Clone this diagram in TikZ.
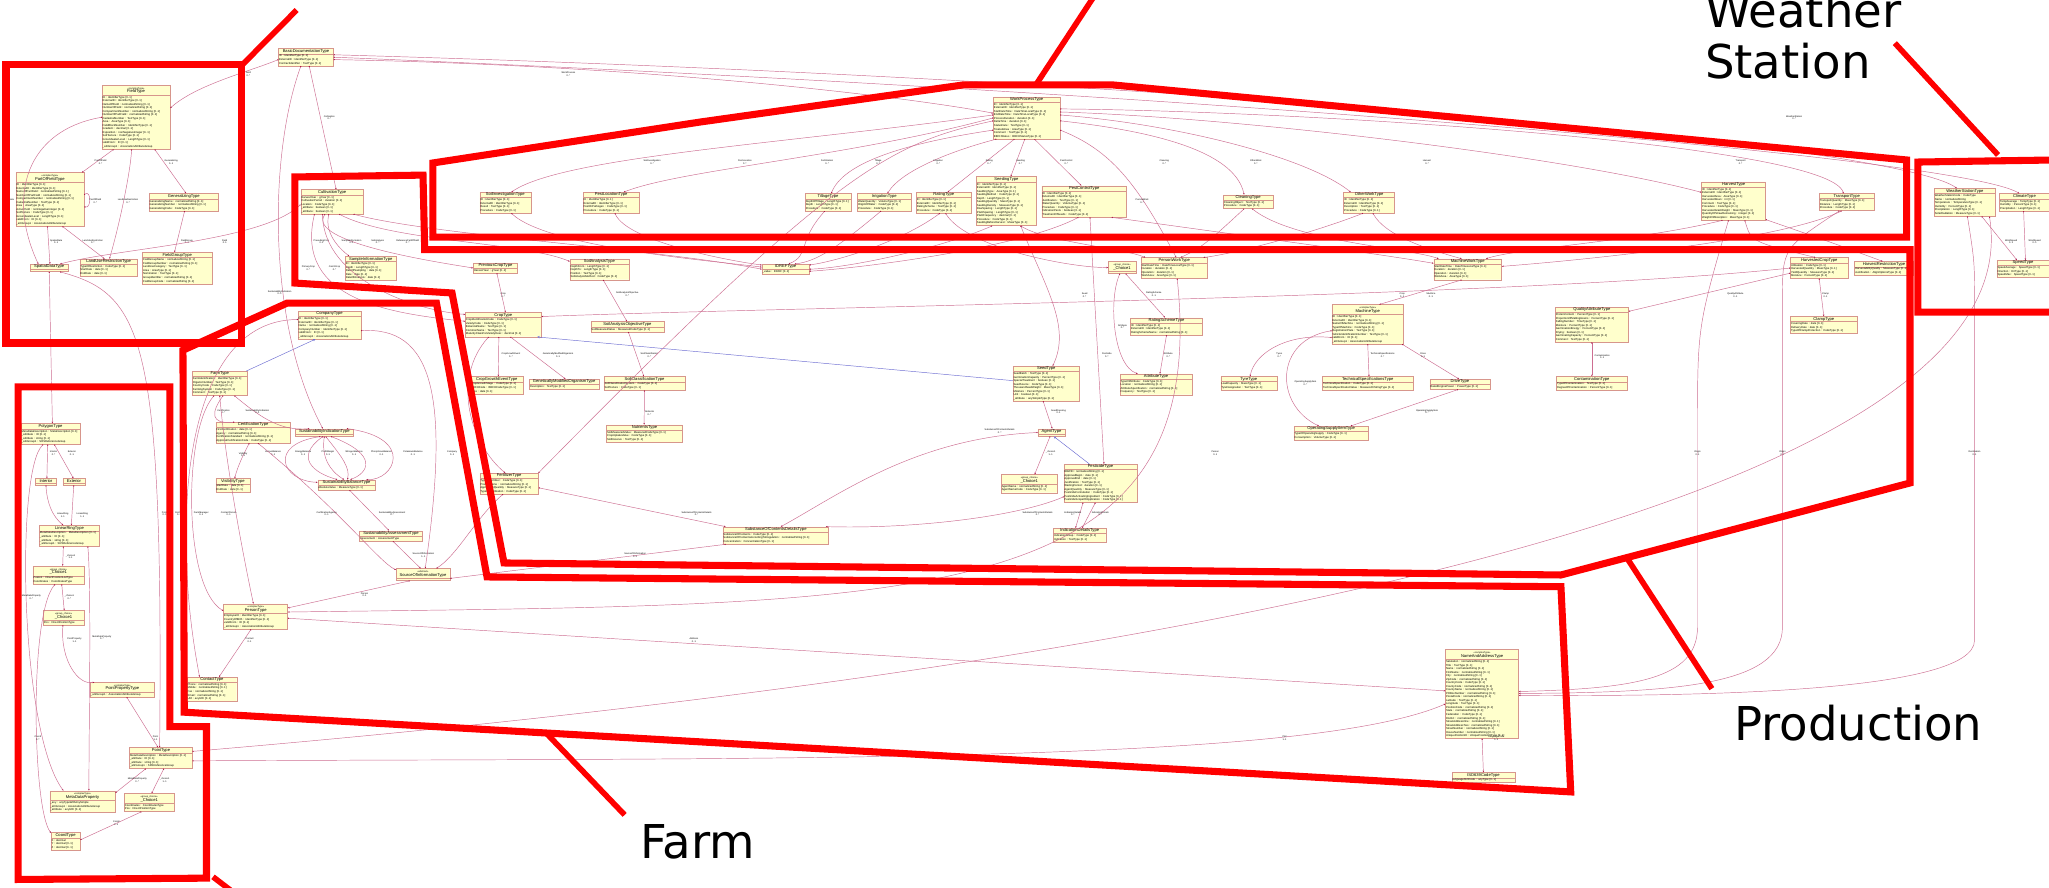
\documentclass[tikz,border=0pt]{standalone}
\usepackage{fontspec}
\setmainfont{Liberation Sans}
\newfontfamily\bigfont{DejaVu Sans}
\usetikzlibrary{shapes.multipart,arrows.meta}
\definecolor{clsfill}{RGB}{255,255,204}
\definecolor{clsborder}{RGB}{215,150,140}
\definecolor{linkc}{RGB}{205,110,145}
\definecolor{tipc}{RGB}{170,20,70}
\definecolor{genblue}{RGB}{110,110,210}
\newcounter{labc}
\newcommand{\stereo}[2]{\begin{tabular}{@{}c@{}}{\fontsize{3.4}{3.8}\selectfont «#1»}\\[-1.5pt]#2\end{tabular}}
\newcommand{\umlc}[6]{\pgfmathsetlengthmacro{\clsw}{#4*0.065cm-1.6pt}%
  \node[umlbox,text width=\clsw] (#1) at (#2,-#3) {{\noindent\centering\fontsize{5.8}{6.6}\selectfont #5\par}\nodepart{second}\noindent\begin{tabular}{@{}l@{}}#6\end{tabular}};}
\newcommand{\rlab}[3]{\stepcounter{labc}\node[lab] (lab\thelabc) at (#1,-#2) {#3};}
\begin{document}
\begin{tikzpicture}[x=0.065cm,y=0.065cm,
  umlbox/.style={rectangle split, rectangle split parts=2, draw=clsborder, fill=clsfill, line width=0.6pt, inner xsep=0.8pt, inner ysep=0.7pt, anchor=north west, font=\fontsize{3.9}{5.0}\selectfont},
  link/.style={draw=linkc, line width=0.65pt, {Circle[length=1.6pt,color=tipc]}-{Stealth[length=2.4pt,width=2pt,color=tipc]}},
  genl/.style={draw=genblue, line width=0.65pt, -{Triangle[open,length=3.2pt,width=3.2pt,fill=white]}},
  lab/.style={font=\fontsize{3.3}{3.8}\selectfont, align=center, inner sep=0.2pt},
  redreg/.style={draw=red, line width=10pt},
  redptr/.style={draw=red, line width=8pt},
  biglab/.style={font=\bigfont\fontsize{66}{72}\selectfont, anchor=base west, inner sep=0pt}]
\useasboundingbox (0,0) rectangle (1568,-679);
\fill[white] (0,0) rectangle (1568,-679);

% ---------------- Field region
\umlc{field}{78}{65}{52}{\stereo{complexType}{FieldType}}{ID : IdentifierType [0..1]\\ExternalID : IdentifierType [0..1]\\NameOfField : normalizedString [0..1]\\NumberOfField : normalizedString [0..1]\\CompartmentNumber : normalizedString [0..1]\\NumberOfPartField : normalizedString [0..1]\\CadastralNumber : TextType [0..1]\\Area : AreaType [0..1]\\FieldBlockNumber : IdentifierType [0..1]\\Gradient : decimal [0..1]\\Exposition : nonNegativeInteger [0..1]\\SoilTexture : CodeType [0..1]\\GroundwaterLevel : LengthType [0..1]\\validFrom : ID [0..1]\\\_attrGroup1 : AssociationAttributeGroup}
\umlc{pof}{12}{132}{52}{\stereo{complexType}{PartOfFieldType}}{ID : IdentifierType [0..1]\\ExternalID : IdentifierType [0..1]\\NameOfPartField : normalizedString [0..1]\\NumberOfPartField : normalizedString [0..1]\\CompartmentNumber : normalizedString [0..1]\\CadastralNumber : TextType [0..1]\\Area : AreaType [0..1]\\ActiveYield : nonNegativeInteger [0..1]\\SoilTexture : CodeType [0..1]\\GroundwaterLevel : LengthType [0..1]\\validFrom : ID [0..1]\\\_attrGroup1 : AssociationAttributeGroup}
\umlc{gen}{114}{148}{53}{GeneralizingType}{GeneralizingName : normalizedString [0..1]\\GeneralizingNumber : normalizedString [0..1]\\GeneralizingCode : CodeType [0..1]}
\umlc{spat}{23}{202}{29}{SpatialDataType}{}
\umlc{lur}{61}{198}{44}{LandUseRestrictionType}{TypeOfRestriction : CodeType [0..1]\\StartDate : date [0..1]\\EndDate : date [0..1]}
\umlc{fgrp}{109}{193}{53}{FieldGroupType}{FieldGroupName : normalizedString [0..1]\\FieldGroupNumber : normalizedString [0..1]\\LandUseCategory : TextType [0..1]\\Area : AreaType [0..1]\\Nomination : TextType [0..1]\\GroupIdentifier : normalizedString [0..1]\\FieldGroupCode : normalizedString [0..1]}
\umlc{bdoc}{213}{37}{42}{BasicDocumentationType}{ID : IdentifierType [0..1]\\ExternalID : IdentifierType [0..1]\\ContractIdentifier : TextType [0..1]}

% ---------------- Location region
\umlc{poly}{16}{324}{45}{PolygonType}{MetaDataDescription : MetaDescription [0..1]\\\_attribute : ID [0..1]\\\_attribute : string [0..1]\\\_attrGroup1 : SRSReferenceGroup}
\umlc{inter}{27}{366}{16}{Interior}{}
\umlc{exter}{48}{366}{17}{Exterior}{}
\umlc{lring}{30}{402}{46}{LinearRingType}{MetaDataDescription : MetaDescription [0..1]\\\_attribute : ID [0..1]\\\_attribute : string [0..1]\\\_attrGroup1 : SRSReferenceGroup}
\umlc{chA}{25}{433}{39}{\stereo{group\_choice}{\_Choice1}}{PosList : DirectPositionListType\\Coordinates : CoordinatesType}
\umlc{chB}{33}{467}{31}{\stereo{group\_choice}{\_Choice1}}{Pos : DirectPositionType}
\umlc{ppt}{69}{522}{49}{\stereo{complexType}{PointPropertyType}}{\_attrGroup1 : AssociationAttributeGroup}
\umlc{point}{99}{572}{48}{PointType}{MetaDataDescription : MetaDescription [0..1]\\\_attribute : ID [0..1]\\\_attribute : string [0..1]\\\_attrGroup1 : SRSReferenceGroup}
\umlc{mdp}{38}{605}{50}{\stereo{complexType}{MetaDataProperty}}{\_any : anyTypeWithAnySimple\\\_attrGroup1 : AssociationAttributeGroup\\\_attribute : anyURI [0..1]}
\umlc{chC}{95}{607}{38}{\stereo{group\_choice}{\_Choice1}}{Coordinates : CoordinatesType\\Pos : DirectPositionType}
\umlc{coord}{39}{637}{22}{CoordType}{X : decimal\\Y : decimal [0..1]\\Z : decimal [0..1]}

% ---------------- Farm region
\umlc{comp}{228}{238}{48}{CompanyType}{ID : IdentifierType [0..1]\\ExternalID : IdentifierType [0..1]\\Name : normalizedString [0..1]\\CompanyNumber : IdentifierType [0..1]\\validFrom : ID [0..1]\\\_attrGroup1 : AssociationAttributeGroup}
\umlc{farm}{147}{284}{42}{FarmType}{FarmIdentification : IdentifierType [0..1]\\OrganicNumber : TextType [0..1]\\CountryCode : CodeType [0..1]\\FarmingSystem : CodeType [0..1]\\Comment : TextType [0..1]}
\umlc{cert}{165}{323}{57}{CertificationType}{FirstCertification : date [0..1]\\Agency : normalizedString [0..1]\\CertificationStandard : normalizedString [0..1]\\ApprovalCertificationCode : CodeType [0..1]}
\umlc{sind}{226}{328}{44}{SustainabilityIndicationType}{}
\umlc{vis}{165}{366}{26}{VisibilityType}{StartDate : date [0..1]\\EndDate : date [0..1]}
\umlc{sbal}{243}{367}{44}{SustainabilityBalanceType}{AbsoluteValue : MeasureType [0..1]}
\umlc{sass}{275}{406}{48}{SustainabilityAssessmentType}{Assessment : AssessmentType}
\umlc{soi}{303}{435}{41}{\stereo{abstract}{SourceOfInformationType}}{}
\umlc{person}{171}{462}{49}{\stereo{complexType}{PersonType}}{EmployeeID : IdentifierType [0..1]\\CountryOfBirth : IdentifierType [0..1]\\validFrom : ID [0..1]\\\_attrGroup1 : AssociationAttributeGroup}
\umlc{contact}{143}{518}{38}{ContactType}{Phone : normalizedString [0..1]\\Mobile : normalizedString [0..1]\\Fax : normalizedString [0..1]\\Email : normalizedString [0..1]\\URI : anyURI [0..1]}

% ---------------- Production region
\umlc{cult}{230}{145}{48}{CultivationType}{HarvestYear : gYear [0..1]\\CultivationPeriod : duration [0..1]\\Location : CodeType [0..1]\\\_attribute : boolean [0..1]\\\_attribute : boolean [0..1]}
\umlc{sinf}{264}{196}{39}{SampleInformationType}{ID : IdentifierType [0..1]\\Depth : LengthType [0..1]\\DateOfSampling : date [0..1]\\Date : date [0..1]\\DateOfAnalysis : date [0..1]}
\umlc{pcrop}{362}{201}{34}{PreviousCropType}{HarvestYear : gYear [0..1]}
\umlc{sana}{436}{198}{45}{SoilAnalysisType}{DepthFrom : LengthType [0..1]\\DepthTo : LengthType [0..1]\\Position : TextType [0..1]\\SoilAnalysisMethod : CodeType [0..1]}
\umlc{crop}{356}{239}{58}{CropType}{CropIdentificationCode : CodeType [0..1]\\VarietyCode : CodeType [0..1]\\BotanicalName : TextType [0..1]\\CommonName : TextType [0..1]\\MaturityClassPerVarietyDesc : decimal [0..1]}
\umlc{cge}{360}{288}{40}{CropGrowthEventType}{CropGrowthStage : CodeType [0..1]\\BBCHCode : BBCHCodeType [0..1]\\Date : date [0..1]}
\umlc{gmo}{405}{290}{53}{GeneticallyModifiedOrganismType}{Description : TextType [0..1]}
\umlc{sao}{452}{246}{56}{SoilAnalysisObjectiveType}{SoilMeasuredValue : MeasuredCodeType [0..1]}
\umlc{scls}{462}{288}{62}{SoilClassificationType}{SoilClassificationSystem : CodeType [0..1]\\SoilTexture : CodeType [0..1]}
\umlc{nutr}{464}{325}{58}{NutrientsType}{SoilMeasuredValue : MeasuredCodeType [0..1]\\CropUptakeValue : CodeType [0..1]\\SoilReserve : TextType [0..1]}
\umlc{fert}{367}{362}{45}{FertilizerType}{TypeOfFertilizer : CodeType [0..1]\\ProductName : normalizedString [0..1]\\ApplicationQuantity : MeasureType [0..1]\\TypeOfFertilization : CodeType [0..1]}
\umlc{socd}{553}{403}{81}{SubstanceOfContentsDetailsType}{SubstanceOfContents : CodeType [0..1]\\SubstanceOfContentsAccordingToRegulation : normalizedString [0..1]\\Concentration : ConcentrationType [0..1]}
\umlc{idref}{583}{202}{36}{IDREFType}{\_value : IDREF [0..1]}

% ---------------- Work process region
\umlc{wp}{760}{74}{51}{WorkProcessType}{ID : IdentifierType [0..1]\\ExternalID : IdentifierType [0..1]\\StartDateTime : DateTimeLocalType [0..1]\\EndDateTime : DateTimeLocalType [0..1]\\ProcessDuration : duration [0..1]\\DeltaTime : duration [0..1]\\StatusDate : TextType [0..1]\\TreatedArea : AreaType [0..1]\\Comment : TextType [0..1]\\BBCHStatus : BBCHStatusType [0..1]}
\umlc{sinv}{367}{147}{39}{SoilInvestigationType}{ID : IdentifierType [0..1]\\ExternalID : IdentifierType [0..1]\\Result : TextType [0..1]\\Procedure : CodeType [0..1]}
\umlc{pest}{446}{147}{43}{PestLocationType}{ID : IdentifierType [0..1]\\ExternalID : IdentifierType [0..1]\\PestOrPathogen : CodeType [0..1]\\Procedure : CodeType [0..1]}
\umlc{till}{616}{148}{35}{TillageType}{DepthOfTillage : LengthType [0..1]\\Depth : LengthType [0..1]\\Procedure : CodeType [0..1]}
\umlc{irr}{656}{148}{41}{IrrigationType}{WaterQuantity : VolumeType [0..1]\\OriginOfWater : CodeType [0..1]\\Procedure : CodeType [0..1]}
\umlc{rat}{701}{147}{42}{RatingType}{ID : IdentifierType [0..1]\\ExternalID : IdentifierType [0..1]\\RatingScheme : TextType [0..1]\\Procedure : CodeType [0..1]}
\umlc{seed}{747}{135}{46}{SeedingType}{ID : IdentifierType [0..1]\\ExternalID : IdentifierType [0..1]\\SeedlingType : AreaType [0..1]\\SeedingMethod : CodeType [0..1]\\Depth : LengthType [0..1]\\SeedingQuantity : MassType [0..1]\\SeedingDensity : MeasureType [0..1]\\RowSpacing : LengthType [0..1]\\PlantSpacing : LengthType [0..1]\\PlantFrequency : decimal [0..1]\\Procedure : CodeType [0..1]\\SeedingBeforeHarvest : MassType [0..1]}
\umlc{pctl}{797}{142}{65}{PestControlType}{ID : IdentifierType [0..1]\\ExternalID : IdentifierType [0..1]\\Justification : TextType [0..1]\\WaterQuantity : VolumeType [0..1]\\Procedure : CodeType [0..1]\\IndicationPests : boolean [0..1]\\TreatmentOfSeeds : CodeType [0..1]}
\umlc{clean}{936}{149}{38}{CleaningType}{CleaningObject : TextType [0..1]\\Procedure : CodeType [0..1]}
\umlc{other}{1028}{147}{39}{OtherWorkType}{ID : IdentifierType [0..1]\\ExternalID : IdentifierType [0..1]\\Description : TextType [0..1]\\Procedure : CodeType [0..1]}
\umlc{harv}{1302}{139}{49}{HarvestType}{ID : IdentifierType [0..1]\\ExternalID : IdentifierType [0..1]\\HarvestedArea : AreaType [0..1]\\HarvestedRows : int [0..1]\\Comment : TextType [0..1]\\Procedure : CodeType [0..1]\\HarvestedGrainWeight : MassType [0..1]\\QuantityOfStrawRemaining : integer [0..1]\\WeightOfAbsorption : MassType [0..1]}
\umlc{trans}{1392}{148}{42}{TransportType}{TransportQuantity : MassType [0..1]\\Distance : LengthType [0..1]\\Procedure : CodeType [0..1]}

% ---------------- Production right part
\umlc{chW}{848}{200}{21}{\stereo{group\_choice}{\_Choice1}}{}
\umlc{pwork}{873}{197}{51}{PersonWorkType}{StartDateTime : DateTimeLocalType [0..1]\\Duration : duration [0..1]\\Operation : duration [0..1]\\WorkArea : AreaType [0..1]}
\umlc{rsch}{865}{243}{55}{RatingSchemeType}{ID : IdentifierType [0..1]\\ExternalID : IdentifierType [0..1]\\RatingSchemeName : normalizedString [0..1]}
\umlc{seedt}{775}{280}{51}{SeedType}{SeedBatch : TextType [0..1]\\GerminationCapacity : PercentType [0..1]\\SpecialTreatment : boolean [0..1]\\SeedSource : CodeType [0..1]\\ThousandSeedWeight : MassType [0..1]\\Moisture : PercentType [0..1]\\Unit : boolean [0..1]\\\_attribute : anySimpleType [0..1]}
\umlc{attr}{857}{286}{55}{AttributeType}{TypeOfAttribute : CodeType [0..1]\\Location : normalizedString [0..1]\\AttributeSpecification : normalizedString [0..1]\\Frequency : TextType [0..1]}
\umlc{agent}{794}{328}{21}{AgentType}{}
\umlc{chP}{766}{363}{43}{\stereo{group\_choice}{\_Choice1}}{AgentName : normalizedString [0..1]\\AgentNameCode : CodeType [0..1]}
\umlc{pesti}{814}{355}{56}{PesticideType}{BBWID : normalizedString [0..1]\\ApprovalBegin : date [0..1]\\ApprovalEnd : date [0..1]\\Justification : TextType [0..1]\\WaitingPeriod : duration [0..1]\\AgentQuantity : MeasureType [0..1]\\PesticideFormulation : CodeType [0..1]\\PesticideActivatingIngredient : CodeType [0..1]\\PesticideScopeOfApplication : CodeType [0..1]}
\umlc{ind}{806}{404}{40}{IndicationDetailsType}{IndicationGroup : CodeType [0..1]\\Indication : TextType [0..1]}
\umlc{mwork}{1097}{198}{52}{MachineWorkType}{StartDateTime : DateTimeLocalType [0..1]\\Duration : duration [0..1]\\Operation : duration [0..1]\\WorkArea : AreaType [0..1]}
\umlc{mach}{1019}{233}{55}{\stereo{complexType}{MachineType}}{ID : IdentifierType [0..1]\\ExternalID : IdentifierType [0..1]\\NameOfMachine : normalizedString [0..1]\\TypeOfMachine : CodeType [0..1]\\RegistrationPlate : TextType [0..1]\\VehicleIdentificationNumber : TextType [0..1]\\validFrom : ID [0..1]\\\_attrGroup1 : AssociationAttributeGroup}
\umlc{tyre}{934}{288}{43}{TyreType}{LoadCapacity : MassType [0..1]\\TyreDesignation : TextType [0..1]}
\umlc{tech}{1012}{288}{69}{TechnicalSpecificationsType}{TechnicalSpecification : CodeType [0..1]\\TechnicalSpecificationValue : MeasureOrStringType [0..1]}
\umlc{drive}{1094}{290}{46}{DriveType}{RatedEnginePower : PowerType [0..1]}
\umlc{osi}{990}{326}{57}{OperatingSupplyItemType}{TypeOfOperatingSupply : CodeType [0..1]\\Consumption : VolumeType [0..1]}
\umlc{qual}{1190}{235}{56}{QualityAttributeType}{ProteinContent : PercentType [0..1]\\ProportionOfMaltingGrains : PercentType [0..1]\\FallingNumber : TimeType [0..1]\\Moisture : PercentType [0..1]\\GerminationEnergy : PercentType [0..1]\\Drying : boolean [0..1]\\GerminatingCapacity : PercentType [0..1]\\Comment : TextType [0..1]}
\umlc{cont}{1191}{288}{54}{ContaminationType}{TypeOfContamination : TextType [0..1]\\DegreeOfContamination : PercentType [0..1]}
\umlc{hcrop}{1370}{197}{44}{HarvestedCropType}{Utilisation : CodeType [0..1]\\HarvestedQuantity : MassType [0..1]\\YieldQuantity : MeasureType [0..1]\\Moisture : PercentType [0..1]}
\umlc{hres}{1419}{200}{45}{HarvestRestrictionType}{HarvestabilityQuality : MeasureType [0..1]\\Justification : AlignOptionsType [0..1]}
\umlc{clamp}{1370}{242}{51}{ClampType}{CoveringDate : date [0..1]\\DeliveryDate : date [0..1]\\TypeOfClampProtection : CodeType [0..1]}

% ---------------- Weather
\umlc{wst}{1480}{144}{47}{WeatherStationType}{WeatherStationCode : CodeType\\Name : normalizedString\\Temperature : TemperatureType [0..1]\\Humidity : PercentType [0..1]\\Precipitation : LengthType [0..1]\\SolarRadiation : MeasureType [0..1]}
\umlc{clim}{1530}{148}{38}{ClimateType}{TempAverage : TempType [0..1]\\Humidity : PercentType [0..1]\\Precipitation : LengthType [0..1]}
\umlc{speed}{1528}{199}{40}{SpeedType}{SpeedAverage : SpeedType [0..1]\\Direction : DirType [0..1]\\SpeedMax : SpeedType [0..1]}

% ---------------- Address
\umlc{naddr}{1106}{497}{56}{\stereo{complexType}{NameAndAddressType}}{Salutation : normalizedString [0..1]\\Title : TextType [0..1]\\Name : normalizedString [0..1]\\FirstName : normalizedString [0..1]\\City : normalizedString [0..1]\\ZipCode : normalizedString [0..1]\\CountryCode : CodeType [0..1]\\CountyCode : normalizedString [0..1]\\CountyName : normalizedString [0..1]\\POBoxNumber : normalizedString [0..1]\\PostalCode : normalizedString [0..1]\\Latitude : TextType [0..1]\\Longitude : TextType [0..1]\\PositionCode : normalizedString [0..1]\\State : normalizedString [0..1]\\Federation : CodeType [0..1]\\District : normalizedString [0..1]\\StreetAddressOne : normalizedString [0..1]\\StreetAddressTwo : normalizedString [0..1]\\StreetNumber : normalizedString [0..1]\\HouseNumber : normalizedString [0..1]\\UniquePositionID : UniquePositionIDType [0..1]}
\umlc{iso}{1111}{591}{48}{ISO639CodeType}{languageISOCode : anyType [0..1]}

% ================= connectors
% field
\draw[link] (field.235) -- (pof.40);  \rlab{77}{124}{PartOfField\\0..*}
\draw[link] (field.300) -- (gen.75);  \rlab{131}{124}{Generalizing\\0..1}
\draw[link] (field.262) .. controls (100,-130) and (92,-170) .. (lur.85); \rlab{98}{154}{LandUseRestriction\\0..*}
\draw[link] (pof.8) .. controls (70,-145) and (70,-160) .. (pof.-12); \rlab{73}{154}{PartOfField\\0..*}
\draw[link] (pof.265) -- (spat.80); \rlab{43}{185}{SpatialData\\0..1}
\draw[link] (pof.295) -- (lur.115); \rlab{71}{185}{LandUseRestriction\\0..*}
\draw[link] (gen.275) -- (fgrp.100); \rlab{143}{185}{FieldGroup\\0..1}
\draw[link] (bdoc.185) .. controls (190,-55) and (150,-65) .. (field.15); \rlab{190}{57}{Field\\0..*}
\draw[link] (field.180) .. controls (20,-100) and (5,-150) .. (spat.160); \rlab{6}{154}{SpatialData\\0..1}
\draw[link] (cult.185) .. controls (200,-185) and (90,-190) .. (spat.20); \rlab{172}{185}{Field\\0..1}
% location
\draw[link] (spat.270) -- (poly.80); \rlab{37}{297}{Polygon\\0..1}
\draw[link] (spat.340) .. controls (110,-225) and (125,-260) .. (point.97); \rlab{126}{393}{Point\\0..1}
\draw[link] (poly.255) -- (inter.75); \rlab{41}{347}{Interior\\0..*}
\draw[link] (poly.290) -- (exter.100); \rlab{55}{347}{Exterior\\0..1}
\draw[link] (inter.270) .. controls (36,-385) and (40,-395) .. (lring.120); \rlab{48}{394}{LinearRing\\1..1}
\draw[link] (exter.265) -- (lring.80); \rlab{63}{394}{LinearRing\\1..1}
\draw[link] (lring.240) -- (chA.65); \rlab{54}{426}{\_choice1\\1..1}
\draw[link] (chA.290) -- (chB.85); \rlab{53}{457}{\_choice1\\0..*}
\draw[link] (chB.265) .. controls (46,-505) and (60,-525) .. (ppt.165); \rlab{57}{490}{PointProperty\\1..1}
\draw[link] (lring.330) .. controls (70,-450) and (68,-560) .. (mdp.60); \rlab{78}{488}{MetaDataProperty\\0..*}
\draw[link] (poly.235) .. controls (12,-360) and (15,-560) .. (mdp.150); \rlab{24}{457}{MetaDataProperty\\0..*}
\draw[link] (chA.250) .. controls (22,-470) and (25,-620) .. (coord.150); \rlab{29}{565}{Coord\\0..*}
\draw[link] (ppt.300) -- (point.105); \rlab{119}{565}{Point\\1..1}
\draw[link] (point.215) -- (mdp.15); \rlab{105}{597}{MetaDataProperty\\0..*}
\draw[link] (point.285) -- (chC.75); \rlab{126}{597}{\_choice1\\1..1}
\draw[link] (chC.230) -- (coord.5); \rlab{89}{630}{Coord\\1..1}
% farm
\draw[genl] (farm.25) -- (comp.225);
\draw[link] (farm.285) .. controls (162,-315) and (160,-325) .. (cert.150); \rlab{171}{315}{Certification\\0..*}
\draw[link] (farm.320) .. controls (200,-320) and (215,-330) .. (sind.165); \rlab{197}{315}{SustainabilityIndication\\0..1}
\draw[link] (cert.250) .. controls (184,-352) and (181,-360) .. (vis.75); \rlab{186}{348}{Visibility\\0..1}
\draw[link] (sind.225) .. controls (205,-340) and (215,-368) .. (sbal.175); \rlab{209}{347}{HumusBalance\\0..1}
\draw[link] (sind.250) .. controls (225,-350) and (240,-362) .. (sbal.150); \rlab{232}{347}{EnergyBalance\\0..1}
\draw[link] (sind.270) .. controls (246,-350) and (252,-360) .. (sbal.115); \rlab{251}{347}{ProfitMargin\\0..1}
\draw[link] (sind.290) .. controls (262,-350) and (268,-358) .. (sbal.80); \rlab{271}{347}{NitrogenBalance\\0..1}
\draw[link] (sind.330) .. controls (290,-348) and (282,-362) .. (sbal.55); \rlab{292}{347}{PhosphorusBalance\\0..1}
\draw[link] (sind.10) .. controls (318,-335) and (302,-368) .. (sbal.15); \rlab{316}{347}{PotassiumBalance\\0..1}
\draw[link] (sbal.300) -- (sass.110); \rlab{300}{393}{SustainabilityAssessment\\0..*}
\draw[link] (sass.290) -- (soi.110); \rlab{324}{425}{SourceOfInformation\\1..1}
\draw[link] (cert.295) .. controls (260,-390) and (290,-430) .. (soi.170); \rlab{250}{393}{CertificationAgency\\0..1}
\draw[link] (comp.-10) .. controls (330,-250) and (345,-300) .. (soi.70); \rlab{346}{347}{Company\\0..1}
\draw[link] (soi.205) -- (person.15); \rlab{279}{455}{Person\\0..1}
\draw[link] (farm.245) .. controls (140,-330) and (140,-450) .. (person.170); \rlab{154}{393}{FarmManager\\0..1}
\draw[link] (farm.270) .. controls (172,-350) and (185,-420) .. (person.100); \rlab{175}{393}{ContactPerson\\0..1}
\draw[link] (person.250) -- (contact.60); \rlab{191}{490}{Contact\\0..1}
\draw[link] (comp.170) .. controls (140,-245) and (130,-400) .. (contact.135); \rlab{137}{393}{Contact\\0..1}
\draw[link] (person.-3) -- (naddr.175); \rlab{531}{490}{Address\\0..1}
\draw[link] (pwork.285) .. controls (928,-470) and (700,-462) .. (person.8); \rlab{930}{347}{Person\\0..1}
% production
\draw[link] (bdoc.290) -- (cult.72); \rlab{252}{90}{Cultivation\\0..*}
\draw[link] (bdoc.240) .. controls (205,-120) and (205,-250) .. (sind.110); \rlab{214}{224}{SustainabilityIndication\\0..1}
\draw[link] (cult.240) .. controls (235,-185) and (330,-200) .. (pcrop.180); \rlab{246}{185}{PrecedingCrop\\0..1}
\draw[link] (cult.255) .. controls (248,-180) and (262,-192) .. (sinf.150); \rlab{269}{185}{SampleInformation\\0..1}
\draw[link] (cult.300) .. controls (300,-185) and (400,-185) .. (sana.165); \rlab{289}{185}{SoilAnalysis\\0..*}
\draw[link] (cult.330) .. controls (330,-180) and (500,-190) .. (idref.180); \rlab{312}{185}{ReferencePartOfField\\0..*}
\draw[link] (cult.215) .. controls (225,-230) and (300,-240) .. (crop.175); \rlab{236}{205}{PrimaryCrop\\0..*}
\draw[link] (cult.232) .. controls (248,-215) and (320,-238) .. (crop.165); \rlab{256}{205}{CatchCrop\\0..*}
\draw[link] (pcrop.285) -- (crop.80); \rlab{385}{226}{Crop\\0..*}
\draw[link] (sana.290) -- (sao.95); \rlab{480}{225}{SoilAnalysisObjective\\0..*}
\draw[link] (sao.280) -- (scls.95); \rlab{497}{272}{SoilClassification\\0..*}
\draw[link] (scls.270) -- (nutr.92); \rlab{497}{316}{Nutrients\\0..*}
\draw[link] (crop.250) -- (cge.80); \rlab{391}{272}{CropGrowthEvent\\0..*}
\draw[link] (crop.300) -- (gmo.75); \rlab{427}{272}{GeneticallyModifiedOrganism\\0..1}
\draw[link] (fert.-8) -- (socd.170); \rlab{533}{393}{SubstanceOfContentsDetails\\0..*}
\draw[link] (socd.190) -- (soi.-8); \rlab{486}{425}{SourceOfInformation\\0..1}
\draw[link] (fert.240) .. controls (365,-395) and (350,-425) .. (soi.25);
\draw[link] (crop.220) .. controls (345,-290) and (360,-340) .. (fert.110);
\draw[genl] (seedt.175) -- (crop.-20);
% work process
\draw[link] (bdoc.-5) .. controls (500,-50) and (700,-75) .. (wp.172); \rlab{435}{57}{WorkProcess\\0..*}
\draw[link] (bdoc.5) .. controls (900,-60) and (1450,-110) .. (wst.120); \rlab{1373}{90}{WeatherStation\\0..*}
\draw[link] (bdoc.0) .. controls (900,-70) and (1500,-120) .. (clim.120);
\draw[link] (wp.175) .. controls (600,-110) and (430,-120) .. (sinv.60); \rlab{499}{124}{SoilInvestigation\\0..*}
\draw[link] (wp.180) .. controls (650,-120) and (520,-130) .. (pest.40); \rlab{570}{124}{PestLocation\\0..*}
\draw[link] (wp.185) .. controls (680,-110) and (640,-130) .. (fert.20); \rlab{633}{124}{Fertilization\\0..*}
\draw[link] (wp.200) .. controls (690,-110) and (645,-125) .. (till.70); \rlab{672}{124}{Tillage\\0..*}
\draw[link] (wp.215) .. controls (730,-115) and (690,-130) .. (irr.70); \rlab{718}{124}{Irrigation\\0..*}
\draw[link] (wp.240) -- (rat.70); \rlab{757}{124}{Rating\\0..*}
\draw[link] (wp.265) -- (seed.80); \rlab{781}{124}{Seeding\\0..*}
\draw[link] (wp.290) -- (pctl.100); \rlab{816}{124}{PestControl\\0..*}
\draw[link] (wp.-5) .. controls (880,-100) and (945,-115) .. (clean.120); \rlab{891}{124}{Cleaning\\0..*}
\draw[link] (wp.-20) .. controls (850,-115) and (870,-140) .. (pwork.80); \rlab{874}{154}{PersonWork\\0..*}
\draw[link] (wp.5) .. controls (900,-95) and (1000,-120) .. (other.150); \rlab{961}{124}{OtherWork\\0..*}
\draw[link] (wp.10) .. controls (950,-90) and (1200,-120) .. (harv.165); \rlab{1092}{124}{Harvest\\0..*}
\draw[link] (wp.15) .. controls (1000,-85) and (1400,-110) .. (trans.110); \rlab{1332}{124}{Transport\\0..*}
\draw[link] (sinv.300) .. controls (420,-190) and (550,-200) .. (idref.175);
\draw[link] (pest.290) .. controls (480,-185) and (560,-200) .. (idref.170);
\draw[link] (till.250) .. controls (610,-185) and (620,-195) .. (idref.60);
\draw[link] (irr.250) .. controls (640,-190) and (625,-200) .. (idref.30);
\draw[link] (rat.250) .. controls (690,-185) and (640,-200) .. (idref.10);
\draw[link] (seed.240) .. controls (720,-190) and (650,-205) .. (idref.0);
\draw[link] (pctl.250) .. controls (780,-190) and (660,-205) .. (idref.-5);
\draw[link] (rat.280) .. controls (740,-190) and (820,-205) .. (chW.180);
\draw[link] (clean.300) .. controls (990,-185) and (1080,-190) .. (mwork.160);
\draw[link] (other.290) .. controls (1060,-180) and (1090,-190) .. (mwork.120);
\draw[link] (harv.240) .. controls (1250,-185) and (1160,-190) .. (mwork.30);
\draw[link] (trans.240) .. controls (1360,-185) and (1200,-200) .. (mwork.5);
\draw[link] (pctl.330) .. controls (950,-180) and (1060,-195) .. (mwork.170);
\draw[link] (seed.300) .. controls (800,-185) and (860,-190) .. (pwork.160);
\draw[link] (clean.240) .. controls (930,-180) and (920,-190) .. (pwork.60);
\draw[link] (other.240) .. controls (1000,-180) and (940,-195) .. (pwork.20);
\draw[link] (harv.300) .. controls (1340,-185) .. (hcrop.110);
\draw[link] (harv.330) .. controls (1400,-185) .. (hres.100);
% production right
\draw[link] (chW.-60) -- (rsch.100); \rlab{883}{225}{RatingScheme\\0..1}
\draw[link] (chW.250) .. controls (848,-230) and (852,-280) .. (attr.150); \rlab{859}{250}{Attribute\\0..*}
\draw[link] (rsch.270) -- (attr.70); \rlab{894}{272}{Attribute\\0..*}
\draw[link] (seed.300) .. controls (800,-220) and (820,-250) .. (seedt.70); \rlab{830}{226}{Seed\\0..*}
\draw[link] (seedt.260) -- (agent.80); \rlab{810}{315}{SeedDressing\\0..1}
\draw[link] (agent.250) -- (chP.60); \rlab{804}{347}{\_choice1\\1..1}
\draw[genl] (pesti.120) -- (agent.-60);
\draw[link] (pctl.-70) -- (pesti.80); \rlab{847}{272}{Pesticide\\0..*}
\draw[link] (pesti.255) -- (ind.70); \rlab{842}{393}{IndicationDetails\\0..*}
\draw[link] (pesti.228) -- (ind.120); \rlab{821}{393}{IndicationDetails\\0..*}
\draw[link] (pesti.200) .. controls (780,-395) and (700,-405) .. (socd.10); \rlab{794}{393}{SubstanceOfContentsDetails\\0..*}
\draw[link] (agent.180) .. controls (700,-335) and (640,-380) .. (socd.60); \rlab{765}{330}{SubstanceOfContentsDetails\\0..*}
\draw[link] (mwork.240) -- (mach.60); \rlab{1095}{226}{Machine\\0..1}
\draw[link] (hcrop.180) .. controls (1150,-228) and (600,-235) .. (crop.12); \rlab{1073}{226}{Crop\\0..1}
\draw[link] (mach.200) .. controls (985,-255) and (960,-270) .. (tyre.80); \rlab{979}{272}{Tyres\\0..*}
\draw[link] (mach.270) -- (tech.80); \rlab{1058}{272}{TechnicalSpecifications\\0..*}
\draw[link] (mach.-30) -- (drive.100); \rlab{1089}{272}{Drive\\0..1}
\draw[link] (mach.190) .. controls (975,-260) and (975,-310) .. (osi.150); \rlab{999}{293}{OperatingSupplyItem\\0..*}
\draw[link] (drive.250) -- (osi.20); \rlab{1092}{315}{OperatingSupplyItem\\0..*}
\draw[link] (qual.270) -- (cont.90); \rlab{1226}{273}{Contamination\\0..1}
\draw[link] (hcrop.190) -- (qual.20); \rlab{1328}{226}{QualityAttribute\\0..1}
\draw[link] (hcrop.270) -- (clamp.90); \rlab{1397}{226}{Clamp\\0..1}
% weather
\draw[link] (wst.-40) -- (speed.125); \rlab{1539}{185}{WindSpeed\\0..1}
\draw[link] (clim.265) -- (speed.75); \rlab{1557}{185}{WindSpeed\\0..1}
% address lines
\draw[link] (harv.255) .. controls (1299,-250) .. (1299,-330) -- (1299,-480) .. controls (1299,-520) and (1250,-527) .. (naddr.4); \rlab{1299}{347}{Origin\\0..1}
\draw[link] (trans.230) .. controls (1364,-190) .. (1364,-230) -- (1364,-480) .. controls (1364,-525) and (1280,-530) .. (naddr.1); \rlab{1364}{347}{Origin\\0..1}
\draw[link] (wst.-80) .. controls (1511,-200) .. (1511,-230) -- (1511,-490) .. controls (1511,-530) and (1300,-533) .. (naddr.-2); \rlab{1511}{347}{Destination\\0..1}
\draw[link] (point.-5) .. controls (600,-580) and (1000,-585) .. (naddr.195); \rlab{983}{565}{Plot\\1..1}
\draw[link] (point.12) .. controls (800,-520) and (1560,-400) .. (wst.-30);
\draw[link] (naddr.270) -- (iso.90); \rlab{1145}{565}{LanguageCode\\1..1}

% ================= red regions
\draw[redreg] (4.6,-49.7) -- (185,-49.7) -- (185,-262.5) -- (4.6,-262.5) -- cycle;
\draw[redreg] (13.8,-296) -- (130,-296) -- (130,-556) -- (158,-556) -- (158,-672) -- (13.8,-673) -- cycle;
\draw[redreg] (140,-268) -- (219.6,-232) -- (334,-232) -- (372.7,-441.5) -- (1194.5,-449) -- (1202,-606) -- (141,-545) -- cycle;
\draw[redreg] (225.7,-135.4) -- (323.7,-134) -- (325,-191) -- (1461.6,-191) -- (1461.6,-369.6) -- (1194.5,-440) -- (385.7,-430.8) -- (345.9,-224.2) -- (225.7,-216.6) -- cycle;
\draw[redreg] (331.3,-124.7) -- (535.7,-93.4) -- (737,-65) -- (851.7,-65) -- (1459,-122.4) -- (1459,-181.4) -- (331.3,-181.4) -- cycle;
\draw[redreg] (1600,-122) -- (1467.7,-124) -- (1467.7,-238.8) -- (1600,-238.8);
\draw[redptr] (185,-50) -- (227,-7.7);
\draw[redptr] (792,-66) -- (838,4);
\draw[redptr] (1450,-33) -- (1529,-118.6);
\draw[redptr] (1245,-427) -- (1310,-527);
\draw[redptr] (418,-561) -- (478,-623.6);
\draw[redptr] (163,-671) -- (180,-684);

% ================= big labels
\node[biglab] (tw1) at (1304.7,-20.7) {Weather};
\node[biglab] (tw2) at (1304.7,-59.7) {Station};
\node[biglab] (tprod) at (1327,-567) {Production};
\node[biglab] (tfarm) at (489.7,-656.6) {Farm};
\end{tikzpicture}
\end{document}
